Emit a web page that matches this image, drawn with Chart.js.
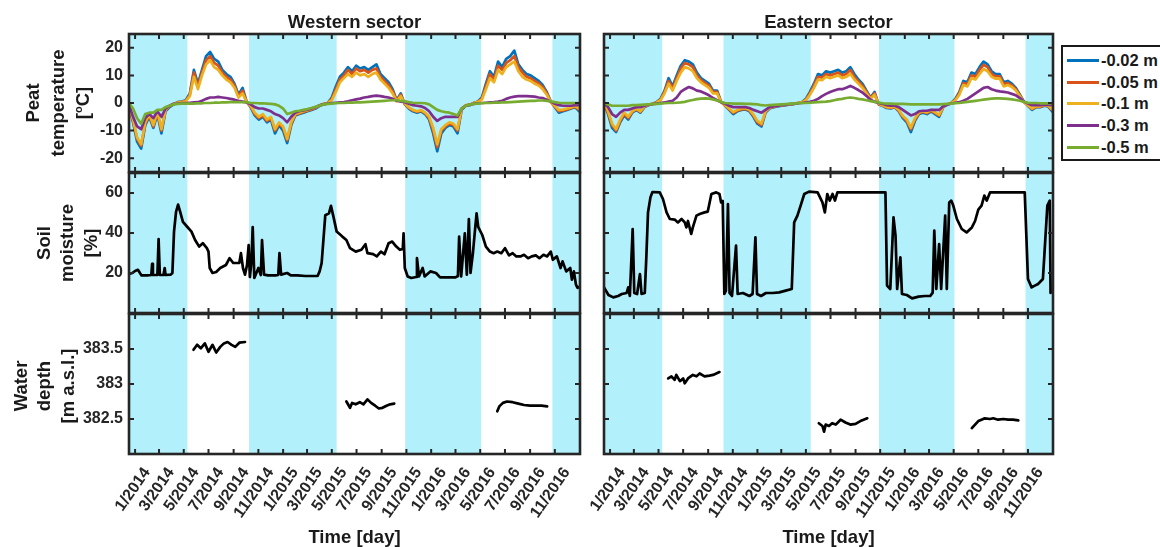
<!DOCTYPE html>
<html>
<head>
<meta charset="utf-8">
<title>Peat temperature, soil moisture and water depth</title>
<script src="https://cdn.jsdelivr.net/npm/chart.js@4.4.1/dist/chart.umd.min.js"></script>
<style>
  html, body { margin: 0; padding: 0; background: #ffffff; }
  #fig { position: relative; width: 1160px; height: 547px; overflow: hidden;
         font-family: 'Liberation Sans', Arial, sans-serif; font-weight: bold; color: #1a1a1a; }
  #fig canvas { position: absolute; }
  .txt { position: absolute; white-space: nowrap; transform: translate(-50%, -50%); line-height: 1; }
  .vtxt { position: absolute; white-space: nowrap; transform: translate(-50%, -50%) rotate(-90deg); line-height: 1; }
  #legend { position: absolute; left: 1061px; top: 45px; width: 120px; height: 112px;
            border: 2px solid #1a1a1a; background: #ffffff; box-sizing: content-box; }
  .lg-line { position: absolute; left: 4px; width: 32px; height: 3px; }
  .lg-text { position: absolute; left: 38px; font-size: 16.5px; line-height: 1; transform: translateY(-50%); white-space: nowrap; }
</style>
</head>
<body>
<div id="fig"></div>
<script>
// ---------- time axis (days since 1 Jan 2014) ----------
const X_MIN = -15;
const X_MAX = 1097;
const xTickDays = [0, 59, 120, 181, 243, 304, 365, 424, 485, 546, 608, 669, 730, 790, 851, 912, 974, 1035];
const xTickLabels = ['1/2014', '3/2014', '5/2014', '7/2014', '9/2014', '11/2014', '1/2015', '3/2015', '5/2015',
                     '7/2015', '9/2015', '11/2015', '1/2016', '3/2016', '5/2016', '7/2016', '9/2016', '11/2016'];

// winter (snow) periods shaded in every panel
const winterBands = [[-15, 129], [281, 497], [666, 853], [1029, 1097]];

// ---------- peat temperature ----------
const depthLabels = ['-0.02 m', '-0.05 m', '-0.1 m', '-0.3 m', '-0.5 m'];
const depthColors = ['#0072BD', '#D95319', '#EDB120', '#7E2F8E', '#77AC30'];
const tempTicks = [-20, -10, 0, 10, 20];

const tempDays = [-15, -5, 5, 15, 25, 35, 45, 55, 65, 75, 85, 95, 105, 115, 125, 135, 145, 155, 165, 175,
  185, 195, 205, 215, 225, 235, 245, 255, 265, 275, 285, 295, 305, 315, 325, 335, 345, 355, 365, 375,
  385, 395, 405, 415, 425, 435, 445, 455, 465, 475, 485, 495, 505, 515, 525, 535, 545, 555, 565, 575,
  585, 595, 605, 615, 625, 635, 645, 655, 665, 675, 685, 695, 705, 715, 725, 735, 745, 755, 765, 775,
  785, 795, 805, 815, 825, 835, 845, 855, 865, 875, 885, 895, 905, 915, 925, 935, 945, 955, 965, 975,
  985, 995, 1005, 1015, 1025, 1035, 1045, 1055, 1065, 1075, 1085, 1095];

const westT002 = [-1, -7, -14, -16.5, -8, -5, -9, -4, -11, -3,
  -1.5, -0.5, 0.3, 0.5, 1, 3.5, 12, 7, 12, 17,
  18.5, 16, 15, 12, 10.5, 9.5, 7, 3, 5.5, 0.5,
  -1.5, -4.5, -6, -5, -7, -6, -11, -8, -10, -14.5,
  -8, -4.5, -4, -3.5, -3, -2.5, -2, -1, -0.5, 0,
  2, 6, 9.5, 11, 13, 11.5, 13.5, 12.5, 13, 12,
  13, 14, 10.5, 9, 7.5, 5, 1, 3.5, -0.5, -2,
  -3, -3.5, -3, -4, -6, -11, -17.5, -11, -9, -8,
  -8.5, -11, -2.5, -1, -0.8, 0, 0.5, 2, 7, 11.5,
  9.5, 15, 13, 16, 17, 19, 14, 12, 10.5, 10,
  9, 8, 6.5, 4, 0.5, -1.5, -3.5, -3, -2.5, -2,
  -1.5, -3];
const westT005 = [-1, -6.5, -13, -15.5, -7.5, -4.5, -8.5, -3.5, -10, -2.5,
  -1.2, -0.4, 0.2, 0.4, 0.8, 3, 11, 6, 11, 15.5,
  17, 14.5, 13.5, 11, 9.5, 8.5, 6.3, 2.5, 4.5, 0.4,
  -1.2, -4, -5.5, -4.5, -6.5, -5.5, -10, -7.5, -9, -13.5,
  -7.5, -4.2, -3.8, -3.2, -2.8, -2.3, -1.8, -0.9, -0.4, 0,
  1.5, 5, 8.5, 10, 12, 10.5, 12.5, 11.5, 12, 11,
  12, 12.5, 9.5, 8, 6.5, 4.3, 0.8, 3, -0.3, -1.8,
  -2.7, -3.2, -2.8, -3.7, -5.5, -10, -16, -10, -8.5, -7.5,
  -8, -10, -2.3, -0.9, -0.7, 0, 0.4, 1.6, 6, 10.5,
  8.5, 13.5, 12, 14.5, 15.5, 17, 13, 11, 9.5, 9,
  8, 7.2, 5.8, 3.5, 0.4, -1.3, -3, -2.7, -2.3, -1.8,
  -1.3, -2.5];
const westT01 = [-1, -6, -12.5, -15, -7, -4, -8, -3, -9.5, -2.5,
  -1, -0.4, 0.1, 0.3, 0.6, 2.5, 9.5, 5, 10, 14,
  15.5, 13, 12, 10, 8.5, 7.5, 5.5, 2, 3.5, 0.3,
  -1, -3.5, -5, -4, -6, -5, -9.5, -7, -8.5, -13,
  -7, -4, -3.5, -3, -2.6, -2.1, -1.6, -0.8, -0.3, 0,
  1, 4, 7.5, 9, 10.5, 9.5, 11, 10, 10.5, 9.5,
  10.5, 11, 8.5, 7, 5.5, 3.5, 0.6, 2.5, -0.2, -1.6,
  -2.5, -3, -2.6, -3.5, -5, -9, -15, -9.5, -8, -7,
  -7.5, -9.5, -2, -0.8, -0.6, 0, 0.3, 1.2, 5, 9,
  7.5, 12, 10.5, 13, 14, 15, 11.5, 9.5, 8.5, 8,
  7, 6.3, 5, 3, 0.3, -1.1, -2.5, -2.4, -2, -1.6,
  -1.1, -2];
const westT03 = [-0.5, -5, -8.5, -9.5, -5.5, -4, -5.5, -3, -5, -2,
  -1, -0.3, -0.2, 0, 0, 0.1, 0.2, 0.3, 0.8, 1.5,
  2, 2, 2.2, 2, 1.8, 1.5, 1.2, 0.8, 0.5, 0.2,
  -0.5, -1.5, -2, -2, -2.5, -3, -4, -4.5, -5.5, -7,
  -5, -3.5, -3, -2.7, -2.4, -2, -1.5, -0.8, -0.4, -0.2,
  0, 0.1, 0.2, 0.3, 0.6, 1, 1.3, 1.6, 2, 2.2,
  2.5, 2.7, 2.5, 2.2, 2, 1.5, 0.8, 0.5, 0.3, -0.3,
  -0.8, -1, -1.2, -1.8, -3, -5, -6.5, -5.5, -5, -5,
  -5, -5, -2, -1, -0.6, -0.3, -0.1, 0, 0.1, 0.2,
  0.3, 0.5, 0.8, 1.5, 2, 2.3, 2.5, 2.5, 2.5, 2.4,
  2.3, 2, 1.8, 1.2, 0.5, -0.3, -0.8, -1, -1, -1,
  -0.8, -0.8];
const westT05 = [0, -2, -5.5, -7.5, -4, -3.5, -3.5, -2.5, -2.5, -1.5,
  -1, -0.5, -0.3, -0.2, -0.2, -0.2, -0.2, -0.1, -0.1, 0,
  0, 0.1, 0.1, 0.2, 0.2, 0.3, 0.3, 0.3, 0.3, 0.3,
  0, 0, -0.1, -0.1, -0.2, -0.3, -0.5, -1, -2, -4,
  -3.5, -3, -2.8, -2.5, -2.2, -1.8, -1.4, -0.9, -0.5, -0.3,
  -0.2, -0.1, 0, 0, 0.1, 0.1, 0.2, 0.2, 0.3, 0.4,
  0.5, 0.6, 0.7, 0.8, 0.9, 1, 1, 0.8, 0.6, 0.3,
  0.1, 0, 0, -0.1, -0.5, -1.5, -2.5, -3, -3.3, -3.5,
  -4, -4.5, -2, -1, -0.6, -0.3, -0.2, -0.1, 0, 0,
  0.1, 0.1, 0.2, 0.2, 0.3, 0.4, 0.5, 0.6, 0.7, 0.8,
  0.8, 0.9, 0.9, 0.8, 0.6, 0.3, 0.1, 0, 0, 0,
  0, 0];

const eastT002 = [0, -4, -9, -10.5, -7, -4.5, -6, -3.5, -2.5, -3.5,
  -1.5, -0.8, -0.3, 0.3, 1.5, 4.5, 9, 6, 10, 13.5,
  15.5, 15, 14, 11, 9, 8, 7, 4.5, 4.5, 0.5,
  -1, -2.5, -4, -3, -2.5, -2.3, -3, -5, -7.5, -8.5,
  -3.5, -2, -1.5, -1.2, -1, -0.8, -0.5, -0.3, 0, 0.3,
  1.5, 4, 7, 10.5, 10, 11.5, 11, 11.5, 12, 11,
  11.5, 13, 10.5, 8.5, 7, 4.5, 2, 4, -0.5, -1,
  -1.8, -2, -1.5, -3, -5.5, -7, -10.5, -6.5, -4, -3.5,
  -4, -3, -4, -5, -1.5, -0.6, 0, 1.5, 4, 8,
  7.5, 11, 10.5, 13, 15, 14, 11.5, 10.5, 10.5, 7.5,
  8, 7, 5.5, 3, 0.5, -1, -2.5, -1.5, -1.5, -1,
  -1.2, -3];
const eastT005 = [0, -3.5, -8, -10, -6.5, -4, -5.5, -3.2, -2.2, -3.2,
  -1.3, -0.7, -0.3, 0.2, 1.2, 4, 8, 5.3, 9, 12.5,
  14.5, 14, 13, 10, 8.3, 7.3, 6.3, 4, 4, 0.4,
  -0.9, -2.3, -3.6, -2.8, -2.3, -2.1, -2.7, -4.6, -7, -8,
  -3.2, -1.8, -1.4, -1.1, -0.9, -0.7, -0.5, -0.3, 0, 0.2,
  1.2, 3.5, 6.3, 9.5, 9.2, 10.5, 10, 10.5, 11, 10,
  10.5, 12, 9.5, 7.8, 6.3, 4, 1.8, 3.5, -0.4, -0.9,
  -1.6, -1.8, -1.4, -2.8, -5, -6.5, -9.5, -6, -3.7, -3.2,
  -3.7, -2.8, -3.7, -4.6, -1.4, -0.5, 0, 1.2, 3.5, 7.2,
  6.8, 10, 9.5, 12, 13.8, 13, 10.5, 9.7, 9.7, 6.8,
  7.3, 6.4, 5, 2.7, 0.4, -0.9, -2.2, -1.4, -1.4, -0.9,
  -1.1, -2.6];
const eastT01 = [0, -3, -7.5, -9.5, -6, -3.5, -5, -3, -2, -3,
  -1.2, -0.6, -0.3, 0.1, 1, 3.5, 7, 4.5, 8, 11,
  13, 12.5, 11.5, 9, 7.5, 6.5, 5.5, 3.5, 3.5, 0.3,
  -0.8, -2, -3.3, -2.5, -2, -1.9, -2.4, -4.2, -6.5, -7.5,
  -3, -1.7, -1.3, -1, -0.8, -0.6, -0.4, -0.2, 0, 0.2,
  1, 3, 5.5, 8.5, 8.3, 9.5, 9, 9.5, 10, 9,
  9.5, 10.5, 8.5, 7, 5.5, 3.5, 1.5, 3, -0.3, -0.8,
  -1.5, -1.6, -1.3, -2.5, -4.7, -6, -9, -5.5, -3.4, -3,
  -3.4, -2.6, -3.4, -4.3, -1.3, -0.5, 0, 1, 3, 6.5,
  6, 9, 8.5, 10.5, 12.3, 11.5, 9.5, 8.8, 8.8, 6,
  6.5, 5.8, 4.5, 2.4, 0.3, -0.8, -2, -1.2, -1.2, -0.8,
  -1, -2.3];
const eastT03 = [0, -1.5, -4, -5, -3.5, -2.5, -2.5, -2, -1.5, -1.5,
  -1, -0.6, -0.4, -0.2, 0, 0.2, 0.5, 0.8, 2, 4,
  5, 5.8, 5.3, 4.5, 4.2, 3.5, 2.8, 1.8, 1, 0.3,
  -0.3, -1, -1.5, -1.5, -1.5, -1.5, -1.8, -2.5, -3, -3.5,
  -2.5, -1.5, -1.2, -1, -0.8, -0.6, -0.4, -0.3, -0.1, 0,
  0.2, 0.4, 0.8, 1.5, 2.5, 3.3, 4, 4.5, 5, 5,
  5.5, 6.2, 5.5, 4.7, 3.8, 2.5, 1.2, 0.5, 0, -0.3,
  -0.8, -1, -1, -1.5, -2.5, -3.5, -4.5, -4, -3, -2.8,
  -2.8, -2.5, -2.5, -2.5, -1.2, -0.6, -0.2, 0.1, 0.3, 0.8,
  1.5, 2.5, 3.5, 4.5, 5.5, 5.8, 5, 4.5, 4.2, 4,
  3.8, 3.3, 2.8, 1.8, 0.5, -0.2, -0.8, -0.8, -0.8, -0.7,
  -0.7, -0.8];
const eastT05 = [0, -0.5, -1, -1, -1, -1, -1, -0.8, -0.8, -0.7,
  -0.6, -0.5, -0.4, -0.3, -0.2, -0.1, 0, 0, 0.1, 0.2,
  0.4, 0.8, 1.1, 1.4, 1.6, 1.7, 1.6, 1.3, 0.9, 0.4,
  0, -0.1, -0.2, -0.2, -0.2, -0.3, -0.3, -0.4, -0.5, -0.8,
  -0.9, -0.8, -0.7, -0.6, -0.5, -0.4, -0.3, -0.2, -0.1, 0,
  0, 0.1, 0.2, 0.3, 0.4, 0.5, 0.7, 1, 1.3, 1.5,
  1.8, 2, 1.8, 1.5, 1.3, 1, 0.7, 0.4, 0.2, -0.1,
  -0.2, -0.2, -0.3, -0.3, -0.3, -0.4, -0.5, -0.5, -0.5, -0.5,
  -0.5, -0.5, -0.5, -0.5, -0.4, -0.3, -0.2, -0.1, 0, 0.2,
  0.4, 0.6, 0.8, 1, 1.2, 1.4, 1.6, 1.7, 1.7, 1.6,
  1.5, 1.3, 1.1, 0.8, 0.4, 0.1, 0, 0, -0.1, -0.1,
  -0.1, -0.1];

// ---------- soil moisture [%] ----------
const moistTicks = [20, 40, 60];
const westMoistDays = [-15, -7, 0, 7, 12, 16, 30, 40, 42, 44, 55, 58, 61, 70, 73, 75, 88, 92, 96, 101,
  106, 110, 118, 129, 139, 148, 158, 167, 177, 181, 184, 191, 200, 210, 224, 233, 242, 257, 261, 266,
  271, 276, 280, 283, 287, 290, 294, 304, 310, 313, 318, 328, 346, 353, 356, 360, 375, 384, 400, 420,
  450, 455, 460, 469, 478, 483, 490, 497, 511, 521, 530, 544, 558, 568, 573, 587, 596, 606, 615, 625,
  634, 644, 653, 660, 662, 665, 672, 681, 693, 695, 700, 709, 714, 728, 742, 752, 790, 796, 799, 804,
  813, 818, 823, 827, 833, 837, 842, 846, 856, 865, 875, 884, 893, 903, 912, 922, 931, 940, 950, 959,
  969, 978, 988, 997, 1007, 1016, 1025, 1030, 1040, 1049, 1054, 1063, 1073, 1077, 1082, 1087, 1091, 1095];
const westMoist = [19.5, 20, 21, 21.6, 20, 18.8, 18.8, 19, 24.6, 19, 19, 37, 19, 19, 22.5, 19, 19.2, 20, 40.7, 50.6,
  54.2, 51.4, 45.6, 43, 40.7, 36.5, 33.2, 34.9, 32.4, 30.7, 22.5, 20, 20.5, 22.5, 24, 27.4, 25, 25, 29.9, 22.5,
  19.2, 24, 34, 18, 26, 43, 17.5, 22.5, 19, 36.5, 19.2, 18.8, 18.8, 19, 30, 19.2, 20, 18.8, 18.8, 18.5,
  18.5, 20.8, 25, 48.9, 49.8, 53.6, 47.3, 40.7, 38.2, 36.5, 32.4, 30.7, 31.6, 34.4, 29.9, 29.4, 28.3, 30.7, 29.4, 34.9,
  35.7, 33.2, 31.6, 32, 39.8, 22.5, 18.3, 17.5, 18, 27.4, 18.3, 22.5, 18.3, 20.8, 20, 17.8, 17.8, 18.5, 38.2, 18.3,
  39.8, 19.2, 47, 20, 30, 39, 49.8, 43.1, 39, 33.2, 30.7, 29.9, 30.7, 29.9, 32.4, 28.8, 29.9, 28.3, 28.3, 29.1,
  27.4, 28.3, 28.8, 27.4, 29.1, 28.3, 30.7, 26.6, 28.3, 22.5, 25.8, 20.8, 22.5, 16.7, 20.8, 14.2, 12.6, 13];

const eastMoistDays = [-15, -4, 8, 20, 29, 41, 45, 49, 56, 60, 67, 74, 78, 86, 90, 94, 100, 105, 123, 131,
  140, 148, 160, 168, 177, 185, 189, 193, 201, 205, 214, 222, 234, 242, 251, 263, 271, 275, 279, 283,
  287, 292, 296, 302, 312, 316, 329, 345, 353, 360, 364, 374, 386, 403, 419, 435, 450, 456, 464, 472,
  481, 493, 514, 526, 532, 538, 544, 551, 557, 563, 583, 682, 686, 694, 702, 707, 711, 719, 723, 735,
  748, 764, 780, 793, 799, 803, 808, 815, 820, 830, 834, 840, 845, 850, 859, 871, 883, 896, 904, 912,
  920, 927, 933, 941, 1027, 1035, 1044, 1052, 1060, 1072, 1076, 1083, 1089, 1091];
const eastMoist = [12.8, 9, 7.8, 8.5, 9.5, 10, 12.8, 8.5, 42, 10, 9.5, 19.5, 9.5, 10, 28.7, 50.3, 57.8, 60.5, 60.3, 57,
  50.3, 47, 46.7, 45.3, 47, 45.3, 42.8, 46, 39.5, 42.8, 48.7, 49.5, 50.3, 50.7, 59.5, 60.3, 59.5, 55.3, 56, 9.5,
  11.2, 54.5, 10, 8.5, 33.7, 9.5, 10, 8.5, 9.5, 37.8, 9.5, 8.5, 10, 10, 10.3, 11.2, 12, 45.3, 48.7, 53.7,
  59.5, 60.7, 60.3, 55.3, 50.3, 59.5, 56.2, 59.5, 56.2, 60.3, 60.3, 60.3, 13.7, 12, 47.8, 38.7, 12, 27.8, 9.5, 9,
  7.3, 8.2, 8.5, 8.5, 10.2, 41.2, 12, 34.5, 12, 48.7, 12, 55.3, 56.2, 53.7, 47, 42, 40.3, 42.8, 46, 51.7,
  53.7, 58.7, 56.2, 60.3, 60.3, 17, 12.8, 13.7, 14.5, 17, 30.3, 53.7, 56.2, 10];

// ---------- water depth [m a.s.l.], summer records only ----------
const waterTicks = [382.5, 383, 383.5];
const westWaterDays1 = [144, 153, 162, 172, 181, 191, 200, 210, 219, 228, 238, 247, 257, 271];
const westWater1 = [383.49, 383.56, 383.51, 383.58, 383.46, 383.56, 383.45, 383.53, 383.58, 383.6, 383.56, 383.53, 383.59, 383.6];
const westWaterDays2 = [521, 530, 535, 544, 554, 563, 573, 582, 592, 601, 610, 620, 629, 639];
const westWater2 = [382.75, 382.66, 382.73, 382.71, 382.74, 382.71, 382.78, 382.73, 382.69, 382.65, 382.66, 382.69, 382.71, 382.72];
const westWaterDays3 = [893, 898, 907, 917, 931, 945, 959, 974, 988, 1002, 1016];
const westWater3 = [382.61, 382.68, 382.73, 382.75, 382.74, 382.72, 382.7, 382.69, 382.69, 382.69, 382.68];

const eastWaterDays1 = [144, 152, 160, 164, 173, 181, 185, 193, 205, 214, 222, 234, 246, 255, 263, 271];
const eastWater1 = [383.08, 383.11, 383.06, 383.13, 383.04, 383.08, 383.01, 383.08, 383.13, 383.11, 383.15, 383.11, 383.12, 383.13, 383.15, 383.17];
const eastWaterDays2 = [517, 526, 530, 534, 542, 550, 559, 571, 583, 595, 608, 620, 628, 637];
const eastWater2 = [382.44, 382.4, 382.32, 382.42, 382.4, 382.44, 382.42, 382.49, 382.45, 382.42, 382.43, 382.47, 382.49, 382.51];
const eastWaterDays3 = [896, 904, 912, 920, 928, 941, 949, 961, 974, 986, 998, 1011];
const eastWater3 = [382.37, 382.42, 382.47, 382.49, 382.51, 382.5, 382.51, 382.49, 382.5, 382.49, 382.49, 382.48];

// ---------- styling ----------
const BAND_COLOR = 'rgb(178, 240, 251)';
const AXIS_COLOR = '#262626';
const FONT = "'Liberation Sans', Arial, sans-serif";

const pts = (xs, ys) => xs.map((x, i) => ({ x, y: ys[i] }));

function tempSets(series) {
  return series.map((ys, i) => ({
    label: depthLabels[i], data: pts(tempDays, ys),
    borderColor: depthColors[i], borderWidth: 2.7, order: series.length - i
  }));
}
const blackLine = (xs, ys) => ({ data: pts(xs, ys), borderColor: '#000000', borderWidth: 2.7 });

// shaded winter bands, inward tick marks and the axes box
const panelFrame = {
  id: 'panelFrame',
  beforeDatasetsDraw(chart, args, opts) {
    const { ctx, chartArea: a } = chart;
    const x = chart.scales.x;
    ctx.save();
    ctx.fillStyle = opts.bandColor;
    for (const [s, e] of opts.bands) {
      const x0 = Math.max(a.left, x.getPixelForValue(s));
      const x1 = Math.min(a.right, x.getPixelForValue(e));
      if (x1 > x0) ctx.fillRect(x0, a.top, x1 - x0, a.bottom - a.top);
    }
    ctx.restore();
  },
  afterDatasetsDraw(chart, args, opts) {
    const { ctx, chartArea: a } = chart;
    const x = chart.scales.x, y = chart.scales.y;
    const L = 5;
    ctx.save();
    ctx.strokeStyle = opts.color;
    ctx.lineWidth = 2;
    ctx.beginPath();
    for (const v of opts.xTicks) {
      const px = x.getPixelForValue(v);
      ctx.moveTo(px, a.top); ctx.lineTo(px, a.top + L);
      ctx.moveTo(px, a.bottom); ctx.lineTo(px, a.bottom - L);
    }
    for (const v of opts.yTicks) {
      const py = y.getPixelForValue(v);
      ctx.moveTo(a.left, py); ctx.lineTo(a.left + L, py);
      ctx.moveTo(a.right, py); ctx.lineTo(a.right - L, py);
    }
    ctx.stroke();
    ctx.lineWidth = 2.6;
    ctx.strokeRect(a.left, a.top, a.right - a.left, a.bottom - a.top);
    ctx.restore();
  }
};

const COLS = [
  { left: 0, width: 600, padLeft: 0, padRight: 20, axisW: 129, showY: true, center: 354.5, title: 'Western sector' },
  { left: 560, width: 508, padLeft: 44, padRight: 15, axisW: 0, showY: false, center: 828.5, title: 'Eastern sector' }
];
const ROWS = [
  { top: 30, height: 146, padTop: 4, padBottom: 4, axisH: 0, showX: false, min: -25, max: 25, ticks: tempTicks },
  { top: 169, height: 148, padTop: 4, padBottom: 4, axisH: 0, showX: false, min: 0, max: 70, ticks: moistTicks },
  { top: 310, height: 237, padTop: 4, padBottom: 0, axisH: 93, showX: true, min: 382, max: 384, ticks: waterTicks }
];

const panelData = [
  [
    tempSets([westT002, westT005, westT01, westT03, westT05]),
    tempSets([eastT002, eastT005, eastT01, eastT03, eastT05])
  ],
  [
    [blackLine(westMoistDays, westMoist)],
    [blackLine(eastMoistDays, eastMoist)]
  ],
  [
    [blackLine(westWaterDays1, westWater1), blackLine(westWaterDays2, westWater2), blackLine(westWaterDays3, westWater3)],
    [blackLine(eastWaterDays1, eastWater1), blackLine(eastWaterDays2, eastWater2), blackLine(eastWaterDays3, eastWater3)]
  ]
];

const fig = document.getElementById('fig');

function zeroPadding(s) { s.paddingLeft = 0; s.paddingRight = 0; s.paddingTop = 0; s.paddingBottom = 0; }

ROWS.forEach((row, r) => {
  COLS.forEach((col, c) => {
    const cv = document.createElement('canvas');
    cv.width = col.width; cv.height = row.height;
    cv.style.left = col.left + 'px'; cv.style.top = row.top + 'px';
    cv.style.width = col.width + 'px'; cv.style.height = row.height + 'px';
    fig.appendChild(cv);
    new Chart(cv, {
      type: 'line',
      data: { datasets: panelData[r][c] },
      plugins: [panelFrame],
      options: {
        responsive: false, animation: false, devicePixelRatio: 1,
        layout: { autoPadding: false, padding: { left: col.padLeft, right: col.padRight, top: row.padTop, bottom: row.padBottom } },
        elements: { point: { radius: 0, hoverRadius: 0 }, line: { tension: 0, borderJoinStyle: 'round', borderCapStyle: 'round' } },
        events: [],
        plugins: {
          legend: { display: false }, tooltip: { enabled: false },
          panelFrame: { bands: winterBands, xTicks: xTickDays, yTicks: row.ticks, bandColor: BAND_COLOR, color: AXIS_COLOR }
        },
        scales: {
          x: {
            type: 'linear', min: X_MIN, max: X_MAX, display: row.showX,
            grid: { display: false, drawTicks: false }, border: { display: false },
            afterBuildTicks: s => { s.ticks = xTickDays.map(v => ({ value: v })); },
            afterFit: s => { s.height = row.axisH; zeroPadding(s); },
            ticks: {
              autoSkip: false, minRotation: 55, maxRotation: 55, padding: 10, labelOffset: 12,
              color: AXIS_COLOR, font: { family: FONT, size: 16, weight: 'bold' },
              callback: (v, i) => xTickLabels[i]
            }
          },
          y: {
            type: 'linear', min: row.min, max: row.max, display: col.showY,
            grid: { display: false, drawTicks: false }, border: { display: false },
            afterBuildTicks: s => { s.ticks = row.ticks.map(v => ({ value: v })); },
            afterFit: s => { s.width = col.axisW; zeroPadding(s); },
            ticks: {
              padding: 6, color: AXIS_COLOR, font: { family: FONT, size: 16, weight: 'bold' },
              callback: v => String(v)
            }
          }
        }
      }
    });
  });
});

// ---------- text: panel titles, axis titles ----------
function addText(txt, x, y, size, vertical) {
  const d = document.createElement('div');
  d.className = vertical ? 'vtxt' : 'txt';
  d.style.left = x + 'px'; d.style.top = y + 'px'; d.style.fontSize = size + 'px';
  d.innerHTML = txt;
  fig.appendChild(d);
}
COLS.forEach(col => {
  addText(col.title, col.center, 22, 18.5, false);
  addText('Time [day]', col.center, 537, 18.5, false);
});

const rowTitles = [
  { lines: ['Peat', 'temperature', '[<sup style="font-size:11px;vertical-align:7px">o</sup>C]'], xs: [33, 58, 83], y: 103 },
  { lines: ['Soil', 'moisture', '[%]'], xs: [44, 67, 91], y: 243 },
  { lines: ['Water', 'depth', '[m a.s.l.]'], xs: [21, 44, 68], y: 386 }
];
rowTitles.forEach(t => t.lines.forEach((ln, i) => addText(ln, t.xs[i], t.y, 18.5, true)));

// ---------- legend ----------
const legend = document.createElement('div');
legend.id = 'legend';
const legendRows = [13, 35, 56, 78, 100];
depthLabels.forEach((lab, i) => {
  const ln = document.createElement('div');
  ln.className = 'lg-line';
  ln.style.top = (legendRows[i] - 1.5) + 'px';
  ln.style.background = depthColors[i];
  legend.appendChild(ln);
  const tx = document.createElement('div');
  tx.className = 'lg-text';
  tx.style.top = legendRows[i] + 'px';
  tx.textContent = lab;
  legend.appendChild(tx);
});
fig.appendChild(legend);
</script>
</body>
</html>
